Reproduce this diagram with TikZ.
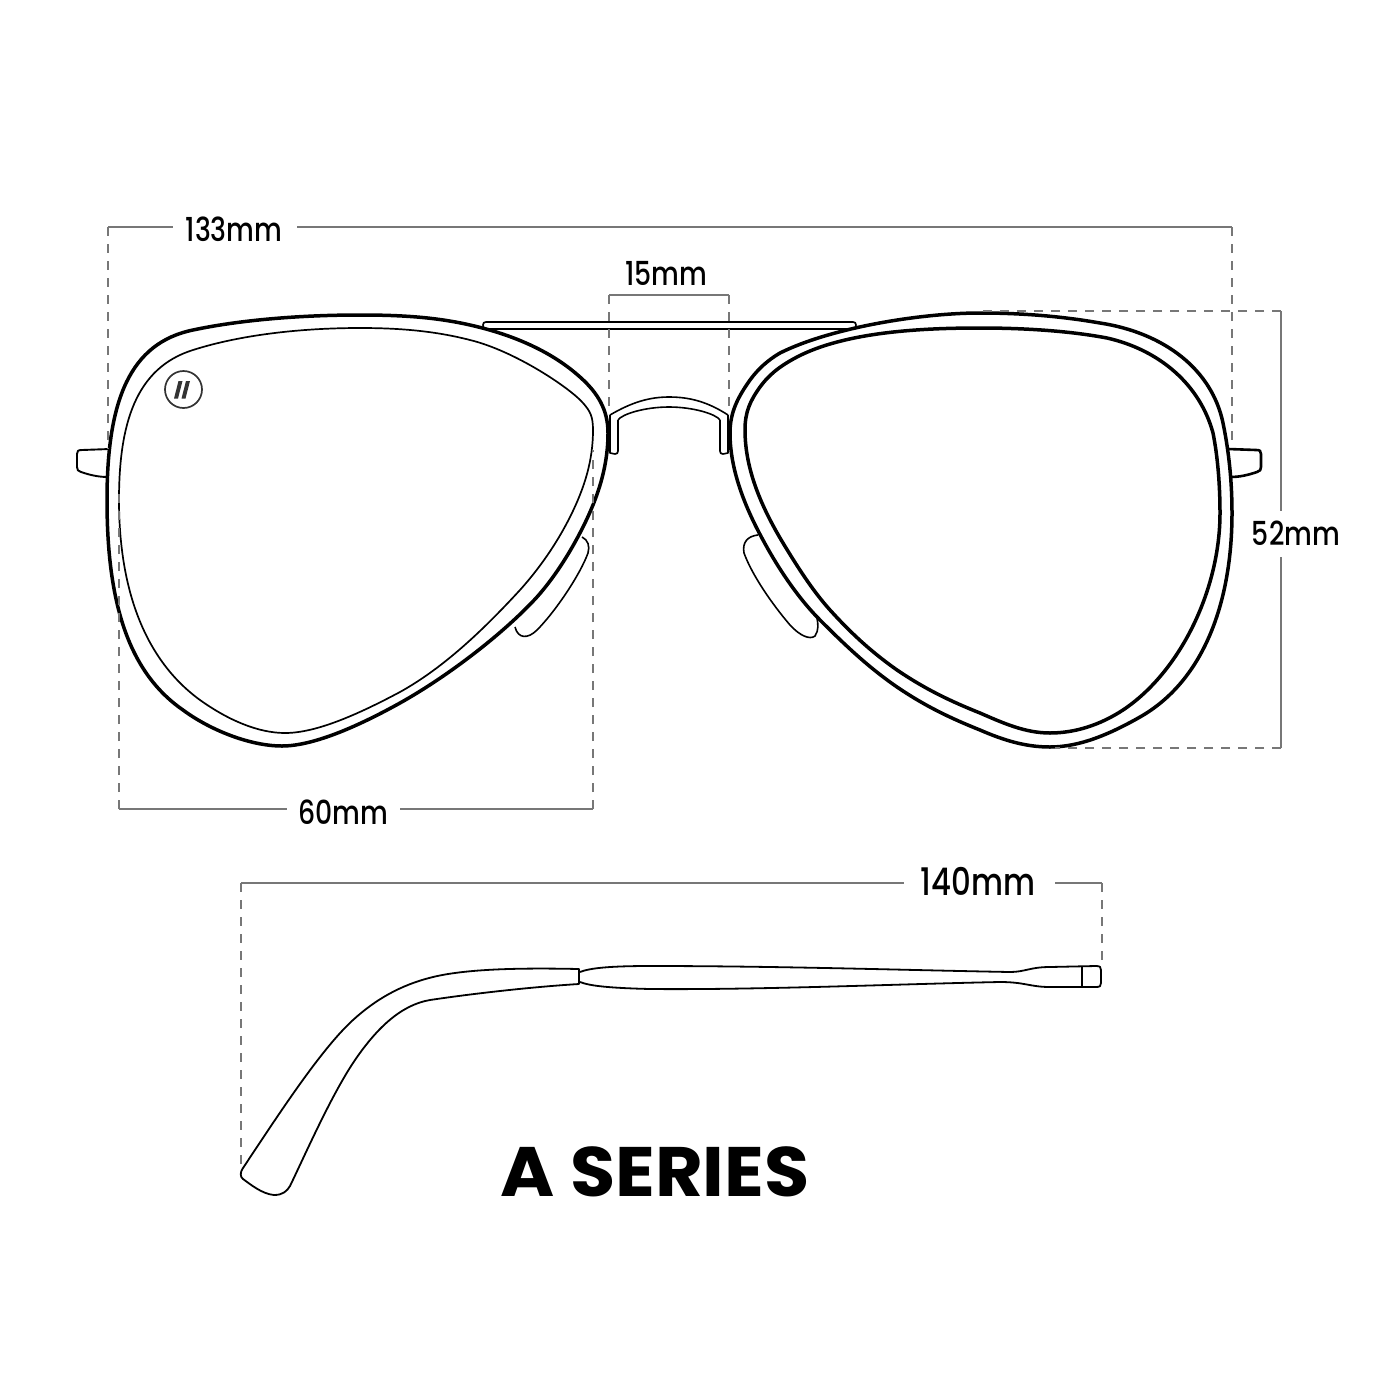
\documentclass[tikz,border=0pt]{standalone}
\usepackage{fontspec}
\setmainfont{Poppins}
\newfontfamily\labelfont{Poppins Medium}[FakeStretch=0.81]
\newfontfamily\titlefont{Poppins Bold}[FakeStretch=1.05]
\definecolor{dimgray}{HTML}{777777}
\tikzset{
    rimline/.style={draw=black,line width=3.5pt,line join=round},
    thinline/.style={draw=black,line width=1.7pt,line join=round},
    partline/.style={draw=black,line width=1.6pt,line join=round},
    dimline/.style={draw=dimgray,line width=2pt},
    dimdash/.style={draw=dimgray,line width=2.4pt,dash pattern=on 9pt off 8pt},
    dimtext/.style={font=\fontsize{33}{33}\labelfont,inner sep=0pt,text=black},
}
\begin{document}
\begin{tikzpicture}[x=1pt,y=-1pt]
    \useasboundingbox (0,0) rectangle (1400,1400);

    % left lens
    \draw[rimline] (360,315) .. controls (300,315) and (240,320) .. (193,330)
        .. controls (130,343) and (107,400) .. (107,500)
        .. controls (107,595) and (125,670) .. (183,710)
        .. controls (210,730) and (250,746) .. (282,746)
        .. controls (312,746) and (355,728) .. (400,703)
        .. controls (450,675) and (505,632) .. (537,597)
        .. controls (553,579) and (569,555) .. (583,527)
        .. controls (597,499) and (608,468) .. (608,433)
        .. controls (608,410) and (598,393) .. (580,377)
        .. controls (550,350) and (510,334) .. (470,325)
        .. controls (435,317) and (400,315) .. (360,315) -- cycle;
    \draw[thinline] (360,328) .. controls (300,328) and (240,335) .. (193,350)
        .. controls (135,368) and (119,425) .. (119,500)
        .. controls (119,590) and (145,660) .. (200,700)
        .. controls (228,720) and (258,733) .. (285,733)
        .. controls (315,733) and (355,716) .. (400,692)
        .. controls (445,667) and (485,628) .. (520,590)
        .. controls (538,570) and (556,545) .. (570,517)
        .. controls (585,487) and (593,460) .. (593,430)
        .. controls (593,416) and (590,411) .. (583,403)
        .. controls (570,388) and (515,351) .. (470,340)
        .. controls (435,331) and (400,328) .. (360,328) -- cycle;

    % right lens
    \draw[rimline] (980,313) .. controls (1020,313) and (1060,316) .. (1100,323)
        .. controls (1165,333) and (1212,370) .. (1223,423)
        .. controls (1229,452) and (1232,482) .. (1232,513)
        .. controls (1232,600) and (1205,680) .. (1140,717)
        .. controls (1110,734) and (1080,747) .. (1050,747)
        .. controls (1025,747) and (1003,740) .. (980,730)
        .. controls (950,718) and (925,706) .. (897,687)
        .. controls (868,667) and (845,645) .. (820,620)
        .. controls (798,598) and (778,568) .. (763,540)
        .. controls (745,507) and (730,470) .. (730,433)
        .. controls (730,412) and (738,397) .. (750,380)
        .. controls (758,369) and (768,360) .. (780,353)
        .. controls (830,328) and (920,313) .. (980,313) -- cycle;
    \draw[rimline] (980,328) .. controls (1025,328) and (1070,331) .. (1107,338)
        .. controls (1160,350) and (1200,385) .. (1213,433)
        .. controls (1218,458) and (1220,487) .. (1220,513)
        .. controls (1220,590) and (1180,672) .. (1123,710)
        .. controls (1100,725) and (1075,733) .. (1050,733)
        .. controls (1025,733) and (1003,723) .. (980,713)
        .. controls (950,701) and (925,689) .. (897,670)
        .. controls (870,651) and (850,632) .. (830,610)
        .. controls (812,590) and (797,566) .. (783,543)
        .. controls (762,508) and (745,470) .. (745,430)
        .. controls (745,412) and (750,401) .. (760,387)
        .. controls (768,376) and (778,367) .. (797,357)
        .. controls (845,332) and (920,328) .. (980,328) -- cycle;

    % hinge ends
    \foreach \sx/\sc/\wd in {0/1/1.9,1338/-1/2.6} {
        \begin{scope}[xshift=\sx pt,xscale=\sc]
            \draw[partline,line width=\wd pt] (110,449) -- (82,450) .. controls (78,450) and (77,451) .. (77,454)
                -- (77,467) .. controls (77,470) and (78,471) .. (81,472) .. controls (90,475) and (98,477) .. (108,477);
        \end{scope}
    }

    % nose pads
    \draw[partline] (582,537) .. controls (588,540) and (590,546) .. (588,553)
        .. controls (580,575) and (555,612) .. (537,630) .. controls (528,639) and (518,639) .. (515,627);
    \draw[partline] (758,535) .. controls (748,536) and (742,542) .. (744,553)
        .. controls (752,575) and (772,604) .. (790,625) .. controls (800,636) and (810,640) .. (815,636)
        .. controls (819,630) and (818,624) .. (817,618);

    % bridge
    \draw[partline] (610,415) .. controls (632,402) and (650,397) .. (669,397) .. controls (690,397) and (708,402) .. (728,415);
    \draw[partline] (618,420) .. controls (622,414) and (645,407) .. (669,407) .. controls (693,407) and (716,414) .. (720,420);
    \foreach \sx/\sc in {0/1,1338/-1} {
        \begin{scope}[xshift=\sx pt,xscale=\sc]
            \draw[partline] (610,415) -- (610,453) -- (615,454) .. controls (617,454) and (618,453) .. (618,451) -- (618,420);
        \end{scope}
    }

    % top bar
    \draw[partline] (484,329) -- (483,325) .. controls (483,323) and (484,322) .. (486,322) -- (853,322)
        .. controls (855,322) and (856,323) .. (856,325) -- (855,329) -- cycle;

    % logo
    \node[circle,draw=black!80,line width=1.7pt,minimum size=37pt,inner sep=0pt] (logo) at (183.5,389.5) {};
    \foreach \dx in {0,7.5} {
        \fill[black!80] (178.5+\dx,381) -- (182.5+\dx,381) -- (178+\dx,398.5) -- (174+\dx,398.5) -- cycle;
    }

    % temple
    \draw[partline,line width=1.8pt] (579,969)
        .. controls (530,968) and (470,968) .. (433,977)
        .. controls (400,985) and (375,1000) .. (353,1020)
        .. controls (320,1050) and (275,1120) .. (243,1168)
        .. controls (240,1172) and (240,1177) .. (243,1179)
        .. controls (250,1184) and (262,1194) .. (274,1195)
        .. controls (283,1195) and (287,1191) .. (290,1186)
        .. controls (305,1155) and (330,1098) .. (353,1063)
        .. controls (375,1030) and (400,1005) .. (430,1000)
        .. controls (470,994) and (530,987) .. (579,984) -- cycle;
    \draw[partline,line width=1.8pt] (580,972) .. controls (590,968) and (610,966) .. (650,966)
        .. controls (780,966) and (900,970) .. (1010,972)
        .. controls (1025,972) and (1030,967) .. (1050,967) -- (1096,966)
        .. controls (1100,966) and (1101,967) .. (1101,970) -- (1101,983)
        .. controls (1101,986) and (1100,987) .. (1096,987) -- (1050,987)
        .. controls (1030,987) and (1025,982) .. (1000,982)
        .. controls (900,984) and (760,990) .. (650,989)
        .. controls (610,988) and (590,986) .. (580,982);
    \draw[partline,line width=1.8pt] (1082,967) -- (1082,987);

    % labels
    \node[dimtext] (totalLabel) at (234,229) {133mm};
    \node[dimtext] (bridgeLabel) at (666,273) {15mm};
    \node[dimtext] (heightLabel) at (1296,533) {52mm};
    \node[dimtext] (lensLabel) at (343,812) {60mm};
    \node[dimtext,font=\fontsize{38}{38}\labelfont] (templeLabel) at (978,881) {140mm};
    \node[font=\fontsize{70}{70}\titlefont,inner sep=0pt] (seriesLabel) at (655,1172) {A SERIES};

    % corners of the measuring lines
    \coordinate (totalA) at (108,227);
    \coordinate (totalB) at (1232,227);
    \coordinate (bridgeA) at (609,295);
    \coordinate (bridgeB) at (729,295);
    \coordinate (heightA) at (1281,311);
    \coordinate (heightB) at (1281,748);
    \coordinate (lensA) at (119,809);
    \coordinate (lensB) at (593,809);
    \coordinate (templeA) at (241,883);
    \coordinate (templeB) at (1102,883);

    % measuring lines
    \draw[dimline] (totalA) -- (173,227) (297,227) -- (totalB);
    \draw[dimline] (bridgeA) -- (bridgeB);
    \draw[dimline] (heightA) -- (1281,511) (1281,557) -- (heightB);
    \draw[dimline] (lensA) -- (287,809) (400,809) -- (lensB);
    \draw[dimline] (templeA) -- (904,883) (1055,883) -- (templeB);

    \draw[dimdash] (totalA) -- (108,449);
    \draw[dimdash] (totalB) -- (1232,447);
    \draw[dimdash] (bridgeA) -- (609,414);
    \draw[dimdash] (bridgeB) -- (729,414);
    \draw[dimdash] (heightA) -- (982,311);
    \draw[dimdash] (heightB) -- (1055,748);
    \draw[dimdash] (lensA) -- (119,490);
    \draw[dimdash] (lensB) -- (593,450);
    \draw[dimdash] (templeA) -- (241,1170);
    \draw[dimdash] (templeB) -- (1102,966);
\end{tikzpicture}
\end{document}
